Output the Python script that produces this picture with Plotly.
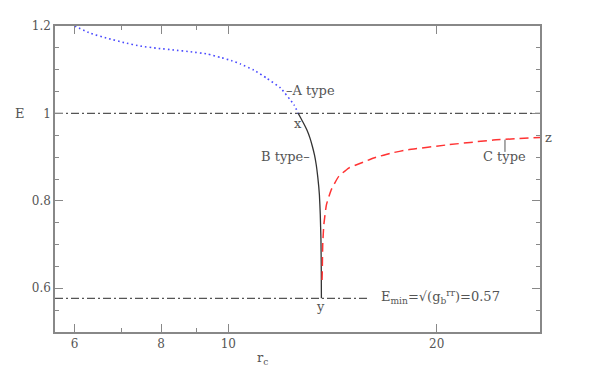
import math
import plotly.graph_objects as go

# ---- data ----
a_x = [6.0, 6.33, 6.69, 7.07, 7.47, 7.90, 8.35, 8.82, 9.33, 9.75, 10.1, 10.42, 10.89, 11.38, 11.90, 12.44, 12.62]
a_y = [1.200, 1.183, 1.172, 1.162, 1.154, 1.149, 1.145, 1.141, 1.136, 1.128, 1.121, 1.113, 1.099, 1.080, 1.058, 1.020, 1.000]

b_x = [12.62, 12.72, 12.84, 12.99, 13.12, 13.22, 13.32, 13.40, 13.47, 13.54, 13.58, 13.61, 13.625, 13.63]
b_y = [1.000, 0.990, 0.978, 0.962, 0.944, 0.926, 0.905, 0.882, 0.853, 0.814, 0.768, 0.711, 0.642, 0.577]

c_x = [13.66, 13.67, 13.69, 13.74, 13.86, 14.08, 14.44, 14.93, 15.52, 16.22, 17.15, 18.20, 20.70, 24.14, 28.2]
c_y = [0.619, 0.638, 0.699, 0.745, 0.791, 0.825, 0.856, 0.875, 0.886, 0.898, 0.909, 0.917, 0.928, 0.939, 0.945]

e_one = 1.0
e_min = 0.577
x_min, x_max = 5.62, 28.2
e_min_line_end = 15.9

x_ticks = [6, 8, 10, 20]
x_minor = [7, 9]
y_ticks = [0.6, 0.8, 1.0, 1.2]
y_labels = ["0.6", "0.8", "1", "1.2"]

FONT = "DejaVu Serif"
TXT = "#555555"
AX = "#888888"

fig = go.Figure()

fig.add_trace(go.Scatter(x=[x_min, x_max], y=[e_one, e_one], mode="lines",
                         line=dict(color="#555555", width=1.2, dash="8px,3px,2px,3px"),
                         hoverinfo="skip"))
fig.add_trace(go.Scatter(x=[x_min, e_min_line_end], y=[e_min, e_min], mode="lines",
                         line=dict(color="#555555", width=1.2, dash="8px,3px,2px,3px"),
                         hoverinfo="skip"))
fig.add_trace(go.Scatter(x=a_x, y=a_y, mode="lines", line_shape="spline",
                         line=dict(color="#4a4aff", width=1.6, dash="1.6px,3px", smoothing=0.4)))
fig.add_trace(go.Scatter(x=b_x, y=b_y, mode="lines", line_shape="spline",
                         line=dict(color="#333333", width=1.3, smoothing=0.4)))
fig.add_trace(go.Scatter(x=c_x, y=c_y, mode="lines", line_shape="spline",
                         line=dict(color="#ff3333", width=1.5, dash="9px,5px", smoothing=0.4)))
# C type pointer
fig.add_trace(go.Scatter(x=[25.1, 25.1], y=[0.940, 0.912], mode="lines",
                         line=dict(color="#555555", width=1), hoverinfo="skip"))

L = math.log10
anns = [
    dict(x=L(6.0), y=1.216, text="w", xanchor="center", yanchor="middle"),
    dict(x=L(12.59), y=0.978, text="x", xanchor="center", yanchor="middle"),
    dict(x=L(13.59), y=0.558, text="y", xanchor="center", yanchor="middle"),
    dict(x=1, xref="paper", xshift=3, y=0.944, text="z", xanchor="left", yanchor="middle"),
    dict(x=L(12.02), y=1.0514, text="–A type", xanchor="left", yanchor="middle"),
    dict(x=L(13.23), y=0.9006, text="B type–", xanchor="right", yanchor="middle"),
    dict(x=L(25.1), y=0.9006, text="C type", xanchor="center", yanchor="middle"),
    dict(x=L(16.5), y=0.58, text="E<sub>min</sub>=√(g<sub>b</sub><sup>rr</sup>)=0.57",
         xanchor="left", yanchor="middle"),
    dict(x=0, xref="paper", xshift=-35, y=1.0, text="E", xanchor="center", yanchor="middle"),
    dict(x=L(11.21), y=0, yref="paper", yshift=-26, text="r<sub>c</sub>", xanchor="center", yanchor="middle"),
]
for a in anns:
    a.setdefault("xref", "x")
    a.setdefault("yref", "y")
    a["showarrow"] = False
    a["font"] = dict(family=FONT, size=13, color=TXT)
fig.update_layout(annotations=anns)

fig.update_xaxes(type="log", range=[L(x_min), L(x_max)], tickvals=x_ticks, automargin=False,
                 ticktext=[str(v) for v in x_ticks], ticks="inside", ticklen=8,
                 tickcolor=AX, tickwidth=1, showline=True, linecolor=AX, linewidth=1.5,
                 mirror="ticks", showgrid=False, zeroline=False,
                 tickfont=dict(family=FONT, size=12, color=TXT),
                 minor=dict(tickvals=x_minor, ticks="inside", ticklen=4, tickcolor=AX, showgrid=False))
fig.update_yaxes(range=[0.5, 1.2], tickvals=y_ticks, ticktext=y_labels, ticks="inside", automargin=False,
                 ticklen=8, tickcolor=AX, tickwidth=1, showline=True, linecolor=AX, linewidth=1.5,
                 mirror="ticks", showgrid=False, zeroline=False,
                 tickfont=dict(family=FONT, size=12, color=TXT),
                 minor=dict(dtick=0.05, tick0=0.5, ticks="inside", ticklen=4, tickcolor=AX, showgrid=False))

fig.update_layout(width=589, height=386, margin=dict(l=47, r=57, t=18, b=62),
                  paper_bgcolor="white", plot_bgcolor="white", showlegend=False)

fig.write_html("out.html")
